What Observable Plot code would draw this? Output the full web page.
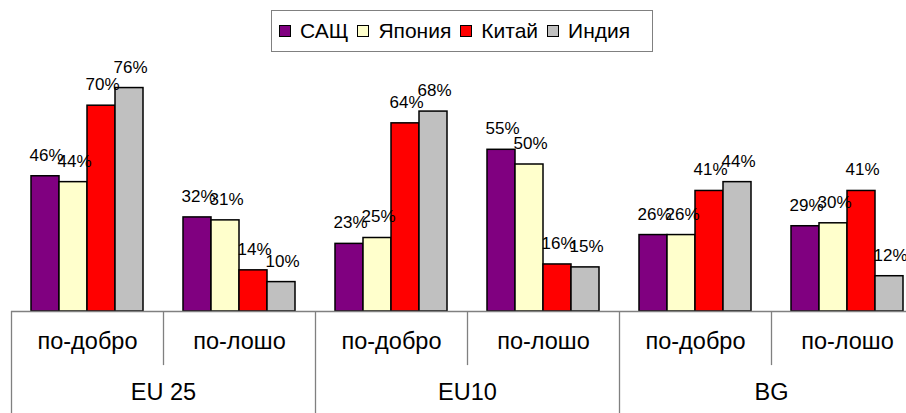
<!DOCTYPE html>
<html><head><meta charset="utf-8">
<script src="https://cdn.jsdelivr.net/npm/d3@7"></script>
<script src="https://cdn.jsdelivr.net/npm/@observablehq/plot@0.6"></script>
<style>
body{margin:0;background:#fff;font-family:"Liberation Sans",Arial,sans-serif}
#wrap{position:relative;width:906px;height:413px;overflow:hidden;background:#fff}
#legend{position:absolute;left:271px;top:10px;width:382px;height:42px;border:1px solid #808080;box-sizing:border-box;display:flex;align-items:center;padding-left:7px;font-size:21px;color:#000}
.item{display:flex;align-items:center;margin-right:9px}
.sw{width:10px;height:10px;border:1.5px solid #000;margin-right:9px}
#wrap svg{display:block;max-width:none !important;width:923px;height:413px}
</style></head>
<body><div id="wrap"><div id="legend"></div></div>
<script>
const series = ["САЩ", "Япония", "Китай", "Индия"];
const colors = ["#800080", "#FFFFCC", "#FF0000", "#C0C0C0"];
const groups = ["EU 25", "EU10", "BG"];
const cats = ["по-добро", "по-лошо"];
const usa   = [46, 32, 23, 55, 26, 29];
const japan = [44, 31, 25, 50, 26, 30];
const china = [70, 14, 64, 16, 41, 41];
const india = [76, 10, 68, 15, 44, 12];
const values = [usa, japan, china, india];

const keys = [];
const keyInfo = {};
groups.forEach((g, gi) => cats.forEach((c, ci) => {
  const k = g + "|" + c;
  keys.push(k);
  keyInfo[k] = {group: g, cat: c, major: ci === 0, first: ci === 0};
}));
const rows = [];
keys.forEach((k, i) => series.forEach((s, si) => rows.push({key: k, series: s, value: values[si][i]})));

const font = "Liberation Sans, Arial, sans-serif";
const chart = Plot.plot({
  width: 923, height: 413,
  marginLeft: 11, marginRight: 0, marginTop: 17, marginBottom: 102,
  style: {fontFamily: font, background: "white", maxWidth: "none"},
  fx: {domain: keys, padding: 0, axis: null},
  x: {domain: series, paddingInner: 0, paddingOuter: 0.714, axis: null},
  y: {domain: [0, 100], axis: null},
  color: {domain: series, range: colors},
  marks: [
    Plot.ruleX(keys, {fx: d => d, x: () => series[0], y1: 0, y2: d => keyInfo[d].major ? -35 : -18.4, dx: -34, stroke: "#808080", strokeWidth: 1.3}),
    Plot.barY(rows, {fx: "key", x: "series", y: "value", fill: "series", stroke: "black", strokeWidth: 1.5}),
    Plot.ruleY([0], {stroke: "#808080", strokeWidth: 1.5}),
    Plot.text(rows, {fx: "key", x: "series", y: "value", text: d => d.value + "%", dy: -21, dx: 1, fontSize: 17, fill: "black", fontFamily: font}),
    Plot.text(keys, {fx: d => d, text: d => keyInfo[d].cat, frameAnchor: "bottom", dy: 37, fontSize: 23.5, fill: "black", fontFamily: font}),
    Plot.text(keys.filter(k => keyInfo[k].first), {fx: d => d, text: d => keyInfo[d].group, frameAnchor: "bottom-right", textAnchor: "middle", dy: 88, fontSize: 23.5, fill: "black", fontFamily: font})
  ]
});
document.getElementById("wrap").prepend(chart);

const legend = document.getElementById("legend");
series.forEach((s, i) => {
  const it = document.createElement("div");
  it.className = "item";
  const sw = document.createElement("div");
  sw.className = "sw";
  sw.style.background = colors[i];
  const t = document.createElement("span");
  t.textContent = s;
  it.append(sw, t);
  legend.append(it);
});
</script></body></html>
